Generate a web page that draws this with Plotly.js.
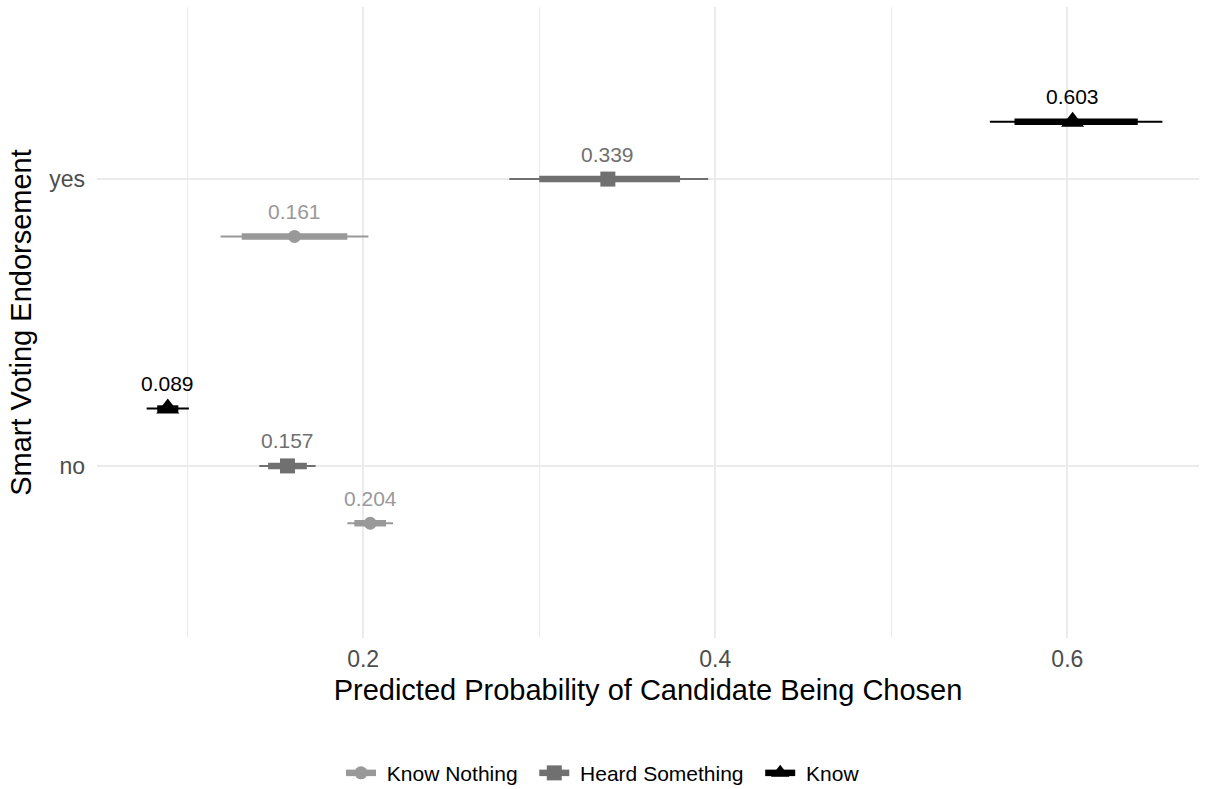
<!DOCTYPE html>
<html>
<head>
<meta charset="utf-8">
<script src="https://cdn.plot.ly/plotly-3.0.1.min.js"></script>
<style>
  html, body { margin: 0; padding: 0; background: #ffffff; }
  #chart { width: 1206px; height: 789px; }
</style>
</head>
<body>
<div id="chart"></div>
<script>
// Predicted probabilities by awareness group and endorsement status
const groups = ['Know Nothing', 'Heard Something', 'Know'];
const endorsement = ['no', 'yes'];

// point estimates, ordered [no, yes]
const estKnowNothing = [0.204, 0.161];
const estHeardSomething = [0.157, 0.339];
const estKnow = [0.089, 0.603];

// outer (thin) intervals, [low, high] per endorsement level
const outerKnowNothing = [[0.191, 0.217], [0.119, 0.203]];
const outerHeardSomething = [[0.141, 0.173], [0.283, 0.396]];
const outerKnow = [[0.077, 0.101], [0.556, 0.654]];

// inner (thick) intervals
const innerKnowNothing = [[0.195, 0.213], [0.131, 0.191]];
const innerHeardSomething = [[0.146, 0.168], [0.300, 0.380]];
const innerKnow = [[0.083, 0.095], [0.570, 0.640]];

const xTickVals = [0.2, 0.4, 0.6];
const xTickText = ['0.2', '0.4', '0.6'];

const series = [
  {name: groups[0], est: estKnowNothing, outer: outerKnowNothing, inner: innerKnowNothing,
   color: '#999999', symbol: 'circle', size: 13, dodge: -0.2},
  {name: groups[1], est: estHeardSomething, outer: outerHeardSomething, inner: innerHeardSomething,
   color: '#707070', symbol: 'square', size: 15, dodge: 0},
  {name: groups[2], est: estKnow, outer: outerKnow, inner: innerKnow,
   color: '#000000', symbol: 'triangle-up', size: 20, dodge: 0.2}
];

const FONT = 'Liberation Sans, Arial, Helvetica, sans-serif';
const NBSP = '\u00a0';
const traces = [];
const annotations = [];

function segments(intervals, dodge) {
  const xs = [], ys = [];
  intervals.forEach((iv, i) => {
    xs.push(iv[0], iv[1], null);
    ys.push(i + 1 + dodge, i + 1 + dodge, null);
  });
  return {x: xs, y: ys};
}

series.forEach(s => {
  const thin = segments(s.outer, s.dodge);
  traces.push({
    type: 'scatter', mode: 'lines', x: thin.x, y: thin.y,
    line: {color: s.color, width: 2}, showlegend: false, hoverinfo: 'skip'
  });
  const thick = segments(s.inner, s.dodge);
  traces.push({
    type: 'scatter', mode: 'lines', x: thick.x, y: thick.y,
    line: {color: s.color, width: 6.5}, showlegend: false, hoverinfo: 'skip'
  });
});

series.forEach((s, k) => {
  const xs = [], ys = [];
  s.est.forEach((v, i) => {
    if (i > 0) { xs.push(null); ys.push(null); }
    xs.push(v); ys.push(i + 1 + s.dodge);
    annotations.push({
      x: v, y: i + 1 + s.dodge, xref: 'x', yref: 'y',
      text: v.toFixed(3), showarrow: false, yanchor: 'middle', yshift: 25,
      font: {family: FONT, size: 21, color: s.color}
    });
  });
  // legend label with a little breathing room around the key
  const label = NBSP + s.name + (k < series.length - 1 ? NBSP + NBSP : '');
  traces.push({
    type: 'scatter', mode: 'lines+markers', name: label, x: xs, y: ys,
    connectgaps: false,
    line: {color: s.color, width: 6.5},
    marker: {color: s.color, symbol: s.symbol, size: s.size, line: {width: 0}}
  });
});

const layout = {
  width: 1206, height: 789,
  margin: {l: 97, r: 7, t: 7, b: 151},
  paper_bgcolor: '#ffffff', plot_bgcolor: '#ffffff',
  font: {family: FONT, color: '#000000'},
  showlegend: true,
  legend: {
    orientation: 'h', xref: 'container', yref: 'container',
    x: 0.5, xanchor: 'center', y: 0.02, yanchor: 'middle',
    font: {family: FONT, size: 21, color: '#000000'},
    itemwidth: 30, traceorder: 'normal'
  },
  xaxis: {
    range: [0.0488, 0.6748],
    tickvals: xTickVals, ticktext: xTickText,
    tickfont: {family: FONT, size: 23, color: '#4d4d4d'},
    ticklabelstandoff: 5,
    showgrid: true, gridcolor: '#ebebeb', gridwidth: 2,
    zeroline: false, showline: false, ticks: '',
    minor: {tickvals: [0.1, 0.3, 0.5], showgrid: true, gridcolor: '#ebebeb', gridwidth: 1, ticks: ''},
    title: {text: 'Predicted Probability of Candidate Being Chosen', standoff: 8,
            font: {family: FONT, size: 29, color: '#000000'}}
  },
  yaxis: {
    range: [0.4, 2.6],
    tickvals: [1, 2], ticktext: endorsement,
    tickfont: {family: FONT, size: 23, color: '#4d4d4d'},
    ticklabelstandoff: 11,
    showgrid: true, gridcolor: '#ebebeb', gridwidth: 2,
    zeroline: false, showline: false, ticks: '',
    title: {text: 'Smart Voting Endorsement', standoff: 9,
            font: {family: FONT, size: 29, color: '#000000'}}
  },
  annotations: annotations
};

Plotly.newPlot('chart', traces, layout, {displayModeBar: false, staticPlot: true});
</script>
</body>
</html>
